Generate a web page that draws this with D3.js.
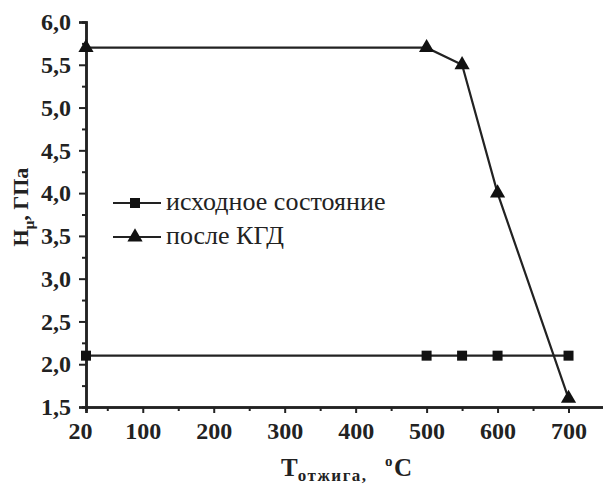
<!DOCTYPE html>
<html>
<head>
<meta charset="utf-8">
<title></title>
<style>
  body { margin: 0; background: #fff; }
  svg { display: block; }
  .axis path, .axis line { stroke: #222; }
  .axis text { font-family: "Liberation Serif", "Times New Roman", "DejaVu Serif", serif; font-weight: bold; font-size: 24px; fill: #222; }
  .lbl { font-family: "Liberation Serif", "Times New Roman", "DejaVu Serif", serif; font-weight: bold; fill: #222; }
  .leg { font-family: "Liberation Serif", "Times New Roman", "DejaVu Serif", serif; font-size: 26px; fill: #222; }
</style>
</head>
<body>
<svg width="603" height="485"></svg>
<script src="https://cdn.jsdelivr.net/npm/d3@7"></script>
<script>
// temperatures, deg C
var temps = [20, 500, 550, 600, 700];
// microhardness, GPa
var initialState = [2.1, 2.1, 2.1, 2.1, 2.1];
var afterHPT = [5.7, 5.7, 5.5, 4.0, 1.6];
var seriesNames = ["исходное состояние", "после КГД"];
var xTicks = [20, 100, 200, 300, 400, 500, 600, 700];
var yTicks = [1.5, 2.0, 2.5, 3.0, 3.5, 4.0, 4.5, 5.0, 5.5, 6.0];

var svg = d3.select("svg");
var x = d3.scaleLinear().domain([20, 750]).range([86, 604]);
var y = d3.scaleLinear().domain([1.5, 6.0]).range([407, 22]);
var fmt = function(d) { return d.toFixed(1).replace(".", ","); };

// minor ticks first, then major ones with labels
var gx = svg.append("g").attr("class", "axis").attr("transform", "translate(0,407)");
gx.call(d3.axisBottom(x).tickValues(d3.range(50, 751, 100)).tickSize(4).tickFormat(""));
gx.append("g").call(d3.axisBottom(x).tickValues(xTicks).tickSize(6).tickPadding(9).tickFormat(d3.format("d")));
gx.selectAll(".domain").attr("stroke-width", 2.5);
gx.selectAll("line").attr("stroke-width", 2);
gx.selectAll("text").filter(function(d) { return d === 20; }).attr("dx", -6);

var gy = svg.append("g").attr("class", "axis").attr("transform", "translate(86,0)");
gy.call(d3.axisLeft(y).tickValues(d3.range(1.75, 6, 0.5)).tickSize(4).tickFormat(""));
gy.append("g").call(d3.axisLeft(y).tickValues(yTicks).tickSize(7).tickPadding(8).tickFormat(fmt));
gy.selectAll(".domain").attr("stroke-width", 2.5);
gy.selectAll("line").attr("stroke-width", 2);

var line = d3.line().x(function(d) { return x(d[0]); }).y(function(d) { return y(d[1]); });
var tri = d3.symbol().type(d3.symbolTriangle).size(100);
var sq = d3.symbol().type(d3.symbolSquare).size(100);

function series(vals, sym) {
  var pts = temps.map(function(t, i) { return [t, vals[i]]; });
  svg.append("path").datum(pts).attr("d", line)
    .attr("fill", "none").attr("stroke", "#222").attr("stroke-width", 2.2);
  svg.selectAll(null).data(pts).enter().append("path")
    .attr("d", sym)
    .attr("transform", function(d) { return "translate(" + x(d[0]) + "," + y(d[1]) + ")"; })
    .attr("fill", "#111");
}
series(initialState, sq);
series(afterHPT, tri);

// legend
var leg = svg.append("g");
[sq, tri].forEach(function(sym, i) {
  var yy = 203 + i * 34;
  leg.append("line").attr("x1", 113).attr("x2", 161).attr("y1", yy).attr("y2", yy)
    .attr("stroke", "#222").attr("stroke-width", 2.2);
  leg.append("path").attr("d", sym).attr("transform", "translate(135," + yy + ")").attr("fill", "#111");
  leg.append("text").attr("class", "leg").attr("x", 166).attr("y", yy + 7).text(seriesNames[i]);
});

// axis titles
var yl = svg.append("text").attr("class", "lbl").attr("font-size", 22)
  .attr("transform", "translate(28,207) rotate(-90)").attr("text-anchor", "middle");
yl.append("tspan").text("H");
yl.append("tspan").attr("font-size", 15).attr("dy", 6).text("μ");
yl.append("tspan").attr("dy", -6).text(", ГПа");

var xl = svg.append("text").attr("class", "lbl").attr("font-size", 25)
  .attr("x", 281).attr("y", 476);
xl.append("tspan").text("T");
xl.append("tspan").attr("font-size", 17).attr("letter-spacing", 1.5).attr("dy", 5).text("отжига,");
svg.append("text").attr("class", "lbl").attr("font-size", 15).attr("x", 385).attr("y", 466).text("o");
svg.append("text").attr("class", "lbl").attr("font-size", 25).attr("x", 394).attr("y", 476).text("C");
</script>
</body>
</html>
